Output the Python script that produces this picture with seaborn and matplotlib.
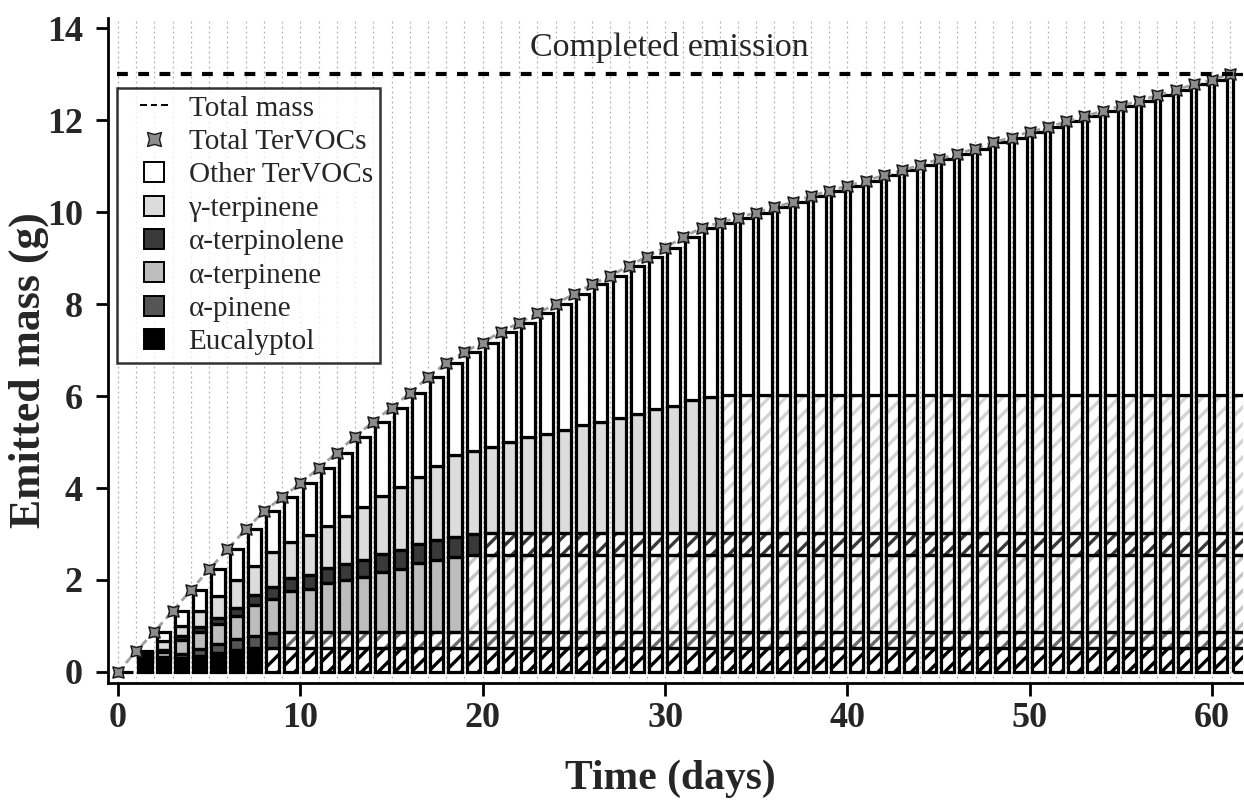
import numpy as np
import matplotlib
matplotlib.use("Agg")
import matplotlib.pyplot as plt
from matplotlib.lines import Line2D
from matplotlib.path import Path
import seaborn as sns

# Daily cumulative emitted mass (g); bars start on day 1, markers on day 0
days = list(range(0, 62))
total_tervocs = [0.00, 0.45, 0.88, 1.33, 1.78, 2.23, 2.67, 3.10, 3.49, 3.80, 4.10,
                 4.43, 4.77, 5.12, 5.44, 5.75, 6.06, 6.41, 6.72, 6.96, 7.16,
                 7.40, 7.59, 7.80, 8.00, 8.22, 8.43, 8.61, 8.83, 9.03, 9.23,
                 9.45, 9.66, 9.77, 9.88, 9.99, 10.10, 10.22, 10.35, 10.46, 10.57,
                 10.68, 10.80, 10.91, 11.02, 11.15, 11.26, 11.38, 11.52, 11.62, 11.75,
                 11.84, 11.97, 12.08, 12.20, 12.31, 12.42, 12.54, 12.65, 12.78, 12.88,
                 13.00]
total_mass = 13.0

eucalyptol = [0.27, 0.28, 0.30, 0.34, 0.41, 0.48, 0.52] + [0.53] * 54
a_pinene = [0.04, 0.05, 0.08, 0.15, 0.20, 0.23, 0.27, 0.32] + [0.35] * 53
a_terpinene = [0.04, 0.10, 0.32, 0.39, 0.43, 0.51, 0.67, 0.73, 0.87, 0.92, 1.05, 1.12,
               1.19, 1.30, 1.37, 1.48, 1.55, 1.61] + [1.67] * 43
a_terpinolene = [0.03, 0.05, 0.08, 0.10, 0.13, 0.17, 0.21, 0.27, 0.30, 0.31, 0.33, 0.35,
                 0.36, 0.38, 0.40, 0.42, 0.44, 0.44, 0.45] + [0.47] * 42
g_terpinene = [0.04, 0.20, 0.22, 0.35, 0.48, 0.61, 0.63, 0.75, 0.77, 0.86, 0.91, 1.04,
               1.16, 1.27, 1.38, 1.47, 1.61, 1.79, 1.81, 1.88, 1.98, 2.08, 2.16, 2.25,
               2.34, 2.42, 2.50, 2.60, 2.70, 2.76, 2.89, 2.96] + [3.00] * 29

# first day on which each compound is fully released (drawn hatched)
exhausted_day = {"Eucalyptol": 8, "α-pinene": 9, "α-terpinene": 19,
                 "α-terpinolene": 20, "γ-terpinene": 33}

compounds = ["Eucalyptol", "α-pinene", "α-terpinene", "α-terpinolene", "γ-terpinene"]
series = [eucalyptol, a_pinene, a_terpinene, a_terpinolene, g_terpinene]
fills = ["#000000", "#555555", "#bdbdbd", "#393939", "#dcdcdc"]
hatch_cols = ["#000000", "#6a6a6a", "#c4c4c4", "#3a3a3a", "#d4d4d4"]

sns.set_theme(style="white")
plt.rcParams["font.family"] = ["Liberation Serif", "DejaVu Serif"]
plt.rcParams["hatch.linewidth"] = 2.4

fig = plt.figure(figsize=(12.44, 8.01), dpi=100)
ax = fig.add_axes([0.0868, 0.1473, 0.9125, 0.8302])

bar_days = np.array(days[1:])
xpos = bar_days + 0.48
width = 0.72
bottom = np.zeros(len(bar_days))

for name, vals, fc, hc in zip(compounds, series, fills, hatch_cols):
    vals = np.array(vals)
    done = bar_days >= exhausted_day[name]
    ax.bar(xpos[~done], vals[~done], width, bottom=bottom[~done], color=fc,
           linewidth=0, zorder=2)
    ax.bar(xpos[done], vals[done], width, bottom=bottom[done], facecolor="white",
           edgecolor=hc, hatch="//", linewidth=0, zorder=2)
    ax.bar(xpos, vals, width, bottom=bottom, fill=False, edgecolor="black",
           linewidth=2.3, zorder=3)
    bottom = bottom + vals

other = np.array(total_tervocs[1:]) - bottom
ax.bar(xpos, other, width, bottom=bottom, color="white", edgecolor="black",
       linewidth=2.3, zorder=3)
# day 0: nothing emitted yet, flat outline only
ax.bar(days[0] + 0.48, total_tervocs[0], width, color="white", edgecolor="black",
       linewidth=2.3, zorder=3)

# concave four-point marker for the total
star = Path([(-1, -1), (0, -0.72), (1, -1), (0.72, 0), (1, 1), (0, 0.72), (-1, 1),
             (-0.72, 0), (-1, -1)], closed=True)
sns.lineplot(x=days, y=total_tervocs, ax=ax, color="#a0a0a0", linewidth=2.0,
             linestyle=(0, (2.5, 1.8)), marker=star, markersize=8,
             markerfacecolor="#8c8c8c", markeredgecolor="#1a1a1a",
             markeredgewidth=1.1, zorder=4)

ax.axhline(total_mass, color="black", linewidth=3, linestyle=(0, (2.6, 2.5)),
           xmin=0.008, zorder=4)
ax.text(30.25, 13.57, "Completed emission", ha="center", va="center", fontsize=24.5)

ax.set_xlim(-0.55, 61.7)
ax.set_ylim(-0.24, 14.22)
ax.set_xticks(range(0, 61, 10))
ax.set_yticks(range(0, 15, 2))
ax.set_xticks(range(0, 62), minor=True)
ax.grid(which="both", axis="x", color="#b0b0b0", linestyle=(0, (1.5, 2.5)),
        linewidth=0.9, zorder=0)
ax.grid(axis="y", visible=False)
ax.set_axisbelow(True)

for s in ["top", "right"]:
    ax.spines[s].set_visible(False)
for s in ["left", "bottom"]:
    ax.spines[s].set_color("black")
    ax.spines[s].set_linewidth(2)
ax.tick_params(which="major", direction="out", length=9, width=2, color="black",
               labelsize=26, left=True, bottom=True, pad=5)
ax.tick_params(axis="y", pad=9)
ax.tick_params(which="minor", length=0)
for lab in ax.get_xticklabels() + ax.get_yticklabels():
    lab.set_fontweight("bold")

ax.set_xlabel("Time (days)", fontsize=30, fontweight="bold")
ax.set_ylabel("Emitted mass (g)", fontsize=31.5, fontweight="bold")
ax.xaxis.set_label_coords(0.495, -0.115)
ax.yaxis.set_label_coords(-0.052, 0.47)

# legend keys: three-dash glyph, the star marker and square swatches
dashes = Path([(-1, 0), (-0.5, 0), (-0.22, 0), (0.22, 0), (0.5, 0), (1, 0)],
              [Path.MOVETO, Path.LINETO, Path.MOVETO, Path.LINETO,
               Path.MOVETO, Path.LINETO])
handles = [
    Line2D([], [], linestyle="none", marker=dashes, markersize=20,
           markeredgecolor="black", markeredgewidth=1.4),
    Line2D([], [], linestyle="none", marker=star, markersize=10,
           markerfacecolor="#8c8c8c", markeredgecolor="#1a1a1a"),
]
for fc in ["white", fills[4], fills[3], fills[2], fills[1], fills[0]]:
    handles.append(Line2D([], [], linestyle="none", marker="s", markersize=14,
                          markerfacecolor=fc, markeredgecolor="black",
                          markeredgewidth=1.4))
labels = ["Total mass", "Total TerVOCs", "Other TerVOCs", "γ-terpinene",
          "α-terpinolene", "α-terpinene", "α-pinene", "Eucalyptol"]
leg = ax.legend(handles, labels, loc="upper left", bbox_to_anchor=(0.008, 0.895),
                borderaxespad=0, fontsize=21, frameon=True, fancybox=False,
                handlelength=2.0, handletextpad=0.2,
                labelspacing=0.24, borderpad=0.25)
leg.get_frame().set_edgecolor("black")
leg.get_frame().set_linewidth(1.8)
leg.set_zorder(6)

plt.savefig("out.png", dpi=100)
